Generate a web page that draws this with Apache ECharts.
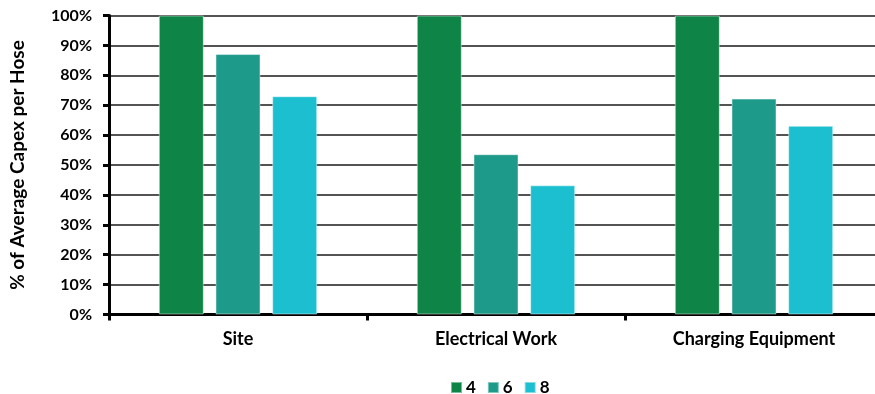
<!DOCTYPE html>
<html>
<head>
<meta charset="utf-8">
<script src="https://cdn.jsdelivr.net/npm/echarts@6/dist/echarts.min.js"></script>
<style>
  html, body { margin: 0; padding: 0; background: #fff; }
  #chart { width: 875px; height: 394px; }
</style>
</head>
<body>
<div id="chart"></div>
<script>
// Capex share per hose, by cost component and number of hoses
const categories = ['Site', 'Electrical Work', 'Charging Equipment'];
const seriesNames = ['4', '6', '8'];
const hoses4 = [100, 100, 100];
const hoses6 = [87.1, 53.6, 72.2];
const hoses8 = [73.0, 43.2, 63.1];
const colors = ['#0E8446', '#1E9A8A', '#1BBFD0'];

const FONT = 'Lato, "Open Sans", sans-serif';

const chart = echarts.init(document.getElementById('chart'));

function barSeries(name, data, color) {
  return {
    name: name,
    type: 'bar',
    data: data,
    barWidth: 45,
    barGap: '26%',
    itemStyle: { color: color, borderColor: 'rgba(255,255,255,0.45)', borderWidth: 1 }
  };
}

chart.setOption({
  animation: false,
  // the plot runs past the right edge of the canvas
  grid: { left: 109, width: 774, top: 15.5, bottom: 79.5, containLabel: false, outerBoundsMode: 'none' },
  legend: {
    data: seriesNames,
    left: 445,
    top: 374,
    itemWidth: 11,
    itemHeight: 11,
    itemGap: 11,
    icon: 'rect',
    textStyle: { fontFamily: FONT, fontWeight: 'bold', fontSize: 17, color: '#000', padding: [0, 0, 0, -1] }
  },
  xAxis: {
    type: 'category',
    data: categories,
    axisLine: { lineStyle: { color: '#000', width: 3 } },
    axisTick: { show: true, length: 6, lineStyle: { color: '#000', width: 3 } },
    axisLabel: { fontFamily: FONT, fontWeight: 'bold', fontSize: 18, color: '#000', margin: 16 },
    splitLine: { show: false }
  },
  yAxis: {
    type: 'value',
    min: 0,
    max: 100,
    interval: 10,
    name: '% of Average Capex per Hose',
    nameLocation: 'middle',
    nameRotate: 90,
    nameGap: 82,
    nameTextStyle: { fontFamily: FONT, fontWeight: 'bold', fontSize: 19, color: '#000' },
    axisLine: { show: true, lineStyle: { color: '#000', width: 3 } },
    axisTick: { show: true, length: 6, lineStyle: { color: '#000', width: 3 } },
    axisLabel: { fontFamily: FONT, fontWeight: 'bold', fontSize: 16, color: '#000', margin: 17,
      formatter: v => v + '%' },
    splitLine: { lineStyle: { color: '#1a1a1a', width: 1.6 } }
  },
  series: [
    barSeries(seriesNames[0], hoses4, colors[0]),
    barSeries(seriesNames[1], hoses6, colors[1]),
    barSeries(seriesNames[2], hoses8, colors[2])
  ]
});
</script>
</body>
</html>
